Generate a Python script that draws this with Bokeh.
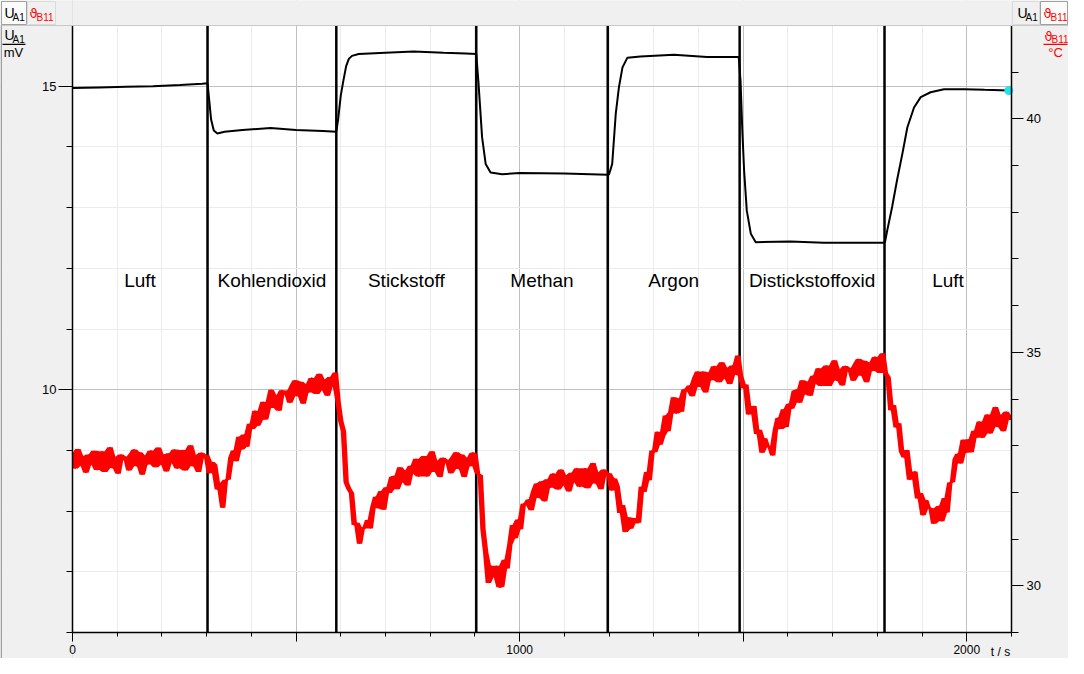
from bokeh.plotting import figure
from bokeh.models import (Range1d, LinearAxis, FixedTicker, CustomJSTickFormatter,
                          Label, BoxAnnotation)
from bokeh.core.properties import value
from bokeh.embed import file_html
from bokeh.resources import INLINE

# ---------------- data ----------------
gas_names = ["Luft", "Kohlendioxid", "Stickstoff", "Methan", "Argon",
             "Distickstoffoxid", "Luft"]
gas_bounds = [0, 302, 590, 903, 1197, 1492, 1816, 2100]   # t / s

# voltage U_A1 (mV), left axis
t_u = [0, 60, 120, 180, 240, 290, 302,
       306, 310, 316, 324, 340, 380, 443, 500, 560, 590,
       594, 600, 606, 612, 618, 625, 640, 700, 763, 830, 880, 903,
       908, 916, 924, 935, 961, 1000, 1100, 1197,
       1200, 1207, 1215, 1222, 1230, 1241, 1270, 1345, 1419, 1490,
       1494, 1498, 1502, 1508, 1517, 1528, 1606, 1680, 1814,
       1817, 1822, 1833, 1844, 1856, 1867, 1882, 1897, 1919, 1949, 1994, 2040, 2094]
u_a1 = [14.97, 14.98, 14.99, 15.00, 15.02, 15.04, 15.05,
        14.75, 14.45, 14.27, 14.22, 14.25, 14.28, 14.31, 14.28, 14.26, 14.25,
        14.45, 14.85, 15.10, 15.33, 15.45, 15.50, 15.53, 15.55, 15.57, 15.55, 15.54, 15.53,
        15.05, 14.16, 13.72, 13.58, 13.55, 13.57, 13.56, 13.54,
        13.55, 13.72, 14.55, 14.98, 15.31, 15.47, 15.49, 15.52, 15.48, 15.48,
        15.09, 14.27, 13.61, 12.95, 12.57, 12.43, 12.44, 12.42, 12.42,
        12.43, 12.62, 13.01, 13.45, 13.89, 14.32, 14.65, 14.82, 14.90, 14.95, 14.95, 14.94, 14.93]

# temperature theta_B11 (degC), right axis, sampled every 6 s
t_temp = list(range(0, 2101, 6))
temp_b11 = [
    32.84, 32.51, 32.93, 32.57, 32.78, 32.42, 32.81, 32.60, 32.89, 32.48,
    32.55, 32.88, 32.44, 32.75, 32.97, 32.52, 32.76, 32.40, 32.81, 32.71,
    32.76, 32.47, 32.83, 32.92, 32.56, 32.86, 32.38, 32.79, 32.60, 32.89,
    32.87, 32.54, 32.96, 32.60, 32.81, 32.45, 32.84, 32.63, 32.92, 32.51,
    32.58, 32.91, 32.47, 32.78, 33.01, 32.56, 32.80, 32.44, 32.85, 32.75,
    32.80, 32.41, 32.65, 32.59, 32.06, 32.20, 31.67, 32.27, 32.27, 32.74,
    32.90, 32.67, 33.19, 32.92, 33.24, 32.98, 33.47, 33.36, 33.75, 33.43,
    33.55, 33.94, 33.56, 33.93, 34.20, 33.81, 34.08, 33.75, 34.19, 34.10,
    34.18, 33.92, 34.30, 34.40, 34.06, 34.37, 33.90, 34.32, 34.14, 34.45,
    34.43, 34.11, 34.54, 34.19, 34.42, 34.07, 34.47, 34.27, 34.57, 33.94,
    33.53, 33.31, 32.22, 32.08, 31.98, 31.30, 31.35, 30.90, 31.24, 31.23,
    31.41, 31.23, 31.70, 31.91, 31.66, 32.03, 31.63, 32.11, 31.99, 32.33,
    32.35, 32.07, 32.54, 32.22, 32.47, 32.15, 32.57, 32.40, 32.72, 32.34,
    32.43, 32.78, 32.34, 32.66, 32.88, 32.44, 32.68, 32.33, 32.74, 32.64,
    32.69, 32.41, 32.77, 32.86, 32.50, 32.81, 32.33, 32.74, 32.56, 32.85,
    32.83, 32.40, 32.37, 31.21, 30.72, 30.06, 30.43, 30.19, 30.43, 29.97,
    29.98, 30.56, 30.37, 30.88, 31.30, 31.02, 31.42, 31.21, 31.76, 31.73,
    31.85, 31.62, 32.04, 32.19, 31.88, 32.24, 31.81, 32.28, 32.10, 32.40,
    32.38, 32.06, 32.49, 32.15, 32.37, 32.02, 32.42, 32.22, 32.52, 32.12,
    32.19, 32.52, 32.09, 32.40, 32.63, 32.19, 32.43, 32.07, 32.49, 32.38,
    32.41, 32.04, 32.30, 32.14, 31.56, 31.73, 31.15, 31.47, 31.22, 31.45,
    31.35, 31.35, 32.12, 32.01, 32.44, 32.26, 32.90, 32.86, 33.30, 33.02,
    33.21, 33.65, 33.31, 33.72, 34.04, 33.69, 34.01, 33.73, 34.21, 34.17,
    34.29, 34.06, 34.46, 34.59, 34.26, 34.59, 34.14, 34.57, 34.40, 34.70,
    34.68, 34.36, 34.79, 34.44, 34.67, 34.32, 34.72, 34.52, 34.93, 34.50,
    34.23, 34.31, 33.67, 33.80, 33.85, 33.25, 33.34, 32.85, 33.16, 32.98,
    32.98, 32.79, 33.35, 33.60, 33.36, 33.78, 33.40, 33.90, 33.79, 34.17,
    34.20, 33.92, 34.40, 34.10, 34.37, 34.07, 34.50, 34.33, 34.66, 34.28,
    34.38, 34.72, 34.28, 34.60, 34.83, 34.39, 34.64, 34.29, 34.71, 34.60,
    34.66, 34.39, 34.76, 34.86, 34.50, 34.82, 34.36, 34.78, 34.60, 34.90,
    34.88, 34.56, 34.98, 34.56, 34.47, 33.76, 33.87, 33.39, 33.48, 32.87,
    32.75, 32.91, 32.27, 32.38, 32.45, 31.87, 31.99, 31.51, 31.84, 31.67,
    31.66, 31.33, 31.65, 31.71, 31.38, 31.88, 31.57, 32.21, 32.22, 32.71,
    32.83, 32.62, 33.13, 32.85, 33.14, 32.86, 33.32, 33.17, 33.52, 33.17,
    33.29, 33.67, 33.26, 33.59, 33.83, 33.40, 33.66, 33.31, 33.73, 33.63,
    33.55,
]

x_ticks = [0, 500, 1000, 1500, 2000]
u_ticks = [10, 15]
temp_ticks = [30, 35, 40]

# ---------------- layout (pixels) ----------------
W, H = 1068, 658                 # canvas
PL, PT, PR, PB = 72, 25, 1011, 632   # plot area inside the canvas
X0, X1 = 0, 2100
U0, U1 = 6, 16
T0, T1 = 29, 42

kx = (X1 - X0) / (PR - PL)
ku = (U1 - U0) / (PB - PT)
kt = (T1 - T0) / (PB - PT)

def px2x(px):
    return X0 + (px - PL) * kx

def py2y(py):
    return U1 - (py - PT) * ku

FONT = "Liberation Sans"
RED = "#ff0000"
GRAY = "#f0f0f0"

p = figure(width=W, height=H,
           x_range=Range1d(px2x(0), px2x(W)),
           y_range=Range1d(py2y(H), py2y(0)),
           output_backend="svg", toolbar_location=None,
           min_border_left=0, min_border_right=0, min_border_top=0, min_border_bottom=0,
           border_fill_color=GRAY, background_fill_color=GRAY,
           outline_line_color=None)
p.extra_y_ranges = {"temp": Range1d(T1 - (H - PT) * kt, T1 + PT * kt)}

# plot-area background
p.add_layout(BoxAnnotation(left=X0, right=X1, bottom=U0, top=U1, fill_color="white",
                           fill_alpha=1, line_color=None, level="image"))

# axes at the edges of the plot area
p.xaxis.fixed_location = U0
p.xaxis.bounds = (X0, X1)
p.xaxis.ticker = FixedTicker(ticks=x_ticks,
                             minor_ticks=[t for t in range(X0, X1 + 1, 100) if t % 500])
p.xaxis.formatter = CustomJSTickFormatter(code="return (tick % 1000 === 0) ? String(tick) : '';")

p.yaxis.fixed_location = X0
p.yaxis.bounds = (U0, U1)
p.yaxis.ticker = FixedTicker(ticks=u_ticks,
                             minor_ticks=[v for v in range(U0, U1 + 1) if v not in u_ticks])

ax_r = LinearAxis(y_range_name="temp", fixed_location=X1, bounds=(T0, T1),
                  ticker=FixedTicker(ticks=temp_ticks,
                                     minor_ticks=[v for v in range(T0, T1 + 1) if v not in temp_ticks]))
p.add_layout(ax_r, "right")

for ax in [p.xaxis[0], p.yaxis[0], ax_r]:
    ax.axis_line_color = "black"
    ax.axis_line_width = 1.5
    ax.major_tick_line_color = "black"
    ax.minor_tick_line_color = "black"
    ax.major_tick_in = 0
    ax.minor_tick_in = 0
    ax.major_label_text_font = FONT
    ax.major_label_text_color = "black"
p.xaxis.major_tick_out = 9
p.xaxis.minor_tick_out = 4
p.xaxis.major_label_text_font_size = "12px"
p.xaxis.major_label_standoff = 3
p.yaxis.major_tick_out = 14
p.yaxis.minor_tick_out = 6
p.yaxis.major_label_text_font_size = "13px"
p.yaxis.major_label_standoff = 2
ax_r.major_tick_out = 12
ax_r.minor_tick_out = 7
ax_r.major_label_text_font_size = "13px"
ax_r.major_label_standoff = 3

for g in [p.xgrid[0], p.ygrid[0]]:
    g.grid_line_color = "#c0c0c0"
    g.minor_grid_line_color = "#ebebeb"
    g.grid_line_width = 1
    g.minor_grid_line_width = 1

# hide the grid outside the plot area
for kw in [dict(right=X0), dict(left=X1), dict(left=X0, right=X1, bottom=U1),
           dict(left=X0, right=X1, top=U0)]:
    p.add_layout(BoxAnnotation(fill_color=GRAY, fill_alpha=1, line_color=None,
                               level="underlay", **kw))

# gas change markers
inner = gas_bounds[1:-1]
p.segment(x0=inner, y0=[U0] * len(inner), x1=inner, y1=[U1] * len(inner),
          line_color="black", line_width=2.5)

# curves
p.line(t_u, u_a1, line_color="black", line_width=2)

# temperature: the spread of neighbouring readings as a filled band, plus the trace itself
n = len(temp_b11)
temp_lo = [min(temp_b11[max(0, i - 1):i + 2]) for i in range(n)]
temp_hi = [max(temp_b11[max(0, i - 1):i + 2]) for i in range(n)]
p.varea(x=t_temp, y1=temp_lo, y2=temp_hi, fill_color=RED, fill_alpha=1, y_range_name="temp")
p.line(t_temp, temp_b11, line_color=RED, line_width=1.6, y_range_name="temp")
p.scatter([t_u[-1]], [u_a1[-1]], size=9, fill_color="#22e3ea", line_color=None)

# gas names
mids = [(a + b) / 2 for a, b in zip(gas_bounds[:-1], gas_bounds[1:])]
p.text(x=mids, y=[py2y(280)] * len(mids), text=gas_names,
       text_font=value(FONT), text_font_size="19px", text_color="black",
       text_align="center", text_baseline="middle")

# ---------------- window chrome ----------------
def box(x0, x1, y0, y1, fill, line=None):
    p.add_layout(BoxAnnotation(left=px2x(x0), right=px2x(x1), top=py2y(y0), bottom=py2y(y1),
                               fill_color=fill, fill_alpha=1,
                               line_color=line, line_alpha=1, line_width=1, level="overlay"))

def lab(text, px, py, size, color="black", align="left", font=FONT):
    # (px, py): left/centre edge and vertical middle of the text, in canvas pixels
    p.add_layout(Label(x=px2x(px), y=py2y(py), text=text, text_font=font,
                       text_font_size=size, text_color=color, text_align=align,
                       text_baseline="middle", level="overlay"))

# toolbar separator and left edge
box(0, W, 24.5, 25.5, "#c8c8c8")
box(0, 1.5, 25, H, "#a0a0a0")

# top-left buttons
box(1, 26, 1, 24, "#fbfbfb", "#a0a0a0")
box(27, 55, 1, 24, GRAY, "#dadada")
lab("U", 4, 12.5, "14px")
lab("A1", 12, 16.5, "10px")
lab("\u03d1", 29, 13, "13px", RED, font="DejaVu Sans")
lab("B11", 36, 16.5, "10px", RED)
# top-right buttons
box(1012, 1039, 1, 24, GRAY, "#dadada")
box(1040, 1067, 1, 24, "#fbfbfb", "#a0a0a0")
lab("U", 1017, 12.5, "14px")
lab("A1", 1025, 16.5, "10px")
lab("\u03d1", 1043, 13, "13px", RED, font="DejaVu Sans")
lab("B11", 1050, 16.5, "10px", RED)

# left axis title (fraction)
lab("U", 4, 34, "14px")
lab("A1", 12, 38.5, "10px")
box(2, 25, 43.3, 44.5, "black")
lab("mV", 13, 51.5, "13px", align="center")
# right axis title (fraction)
lab("\u03d1", 1044, 35.5, "13px", RED, font="DejaVu Sans")
lab("B11", 1051, 38.5, "10px", RED)
box(1043, 1067, 43.3, 44.5, RED)
lab("\u00b0C", 1055, 51.5, "13px", RED, align="center")
# x axis title
lab("t / s", 1000, 651, "12px", align="center")

open("out.html", "w").write(file_html(p, INLINE))
